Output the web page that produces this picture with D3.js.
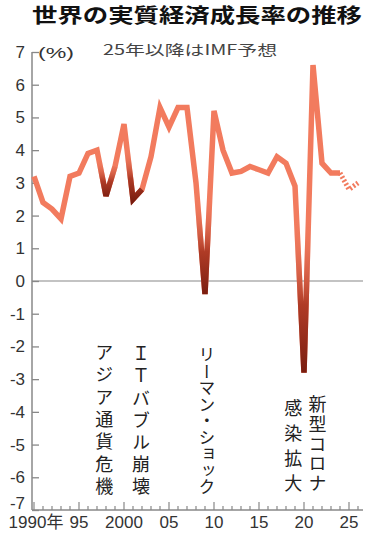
<!DOCTYPE html>
<html>
<head>
<meta charset="utf-8">
<script src="https://cdn.jsdelivr.net/npm/d3@7"></script>
<style>
  body { margin: 0; background: #fff; }
  svg { display: block; }
</style>
</head>
<body>
<div id="vis"></div>
<script>
// ************************** DATA **************************//
var years = d3.range(1990, 2027);
var growth = [3.2, 2.4, 2.2, 1.9, 3.2, 3.3, 3.9, 4.0, 2.6, 3.5,
              4.8, 2.5, 2.8, 3.8, 5.3, 4.7, 5.3, 5.3, 3.0, -0.4,
              5.2, 4.0, 3.3, 3.35, 3.5, 3.4, 3.3, 3.8, 3.6, 2.9,
              -2.8, 6.6, 3.6, 3.3, 3.3, 2.8, 3.0];
var forecastFrom = 2024;   // 25年以降はIMF予想
var yTicks = d3.range(-7, 8);
var xMajor = [1990, 1995, 2000, 2005, 2010, 2015, 2020, 2025];
var xLabels = ["1990年", "95", "2000", "05", "10", "15", "20", "25"];
var eventYears = [1998, 2001, 2009, 2020];
var notes = [
  {text: "アジア通貨危機", year: 1997.8, top: -1.9, bottom: -6.55},
  {text: "ＩＴバブル崩壊", year: 2001.9, top: -1.95, bottom: -6.55},
  {text: "リーマン・ショック", year: 2009.2, top: -2.0, bottom: -6.55},
  {text: "新型コロナ", year: 2021.5, top: -3.5, bottom: -6.45},
  {text: "感染拡大", year: 2018.8, top: -3.6, bottom: -6.45}
];

var W = 370, H = 539;
var salmon = "#f27b5e";

var svg = d3.select("#vis").append("svg")
  .attr("width", W).attr("height", H)
  .style("font-family", "'Noto Sans CJK JP', sans-serif");

var x = d3.scaleLinear().domain([1990, 2026]).range([34, 358]);
var y = d3.scaleLinear().domain([-7, 7]).range([510, 52]);
var axisX0 = 32, axisX1 = 363;

// title
svg.append("text")
  .attr("x", 197).attr("y", 23)
  .attr("text-anchor", "middle")
  .attr("font-size", 20).attr("font-weight", 700)
  .attr("textLength", 330).attr("lengthAdjust", "spacingAndGlyphs")
  .attr("fill", "#111")
  .text("世界の実質経済成長率の推移");

svg.append("text")
  .attr("x", 190).attr("y", 55)
  .attr("text-anchor", "middle")
  .attr("font-size", 14)
  .attr("textLength", 174).attr("lengthAdjust", "spacingAndGlyphs")
  .attr("fill", "#444")
  .text("25年以降はIMF予想");

svg.append("text")
  .attr("x", 38).attr("y", 58)
  .attr("font-size", 15)
  .attr("textLength", 36).attr("lengthAdjust", "spacingAndGlyphs")
  .attr("fill", "#333")
  .style("font-family", "'Liberation Sans', sans-serif")
  .text("(%)");

// y axis
svg.append("g").attr("transform", `translate(${axisX0},0)`)
  .call(d3.axisRight(y).tickValues(yTicks).tickSize(7).tickFormat(d => d < 0 ? "-" + Math.abs(d) : d))
  .call(g => g.select(".domain").remove())
  .call(g => g.selectAll(".tick line").attr("stroke", "#888").attr("stroke-width", 1.3))
  .call(g => g.selectAll(".tick text")
    .attr("x", -7).attr("text-anchor", "end")
    .attr("fill", "#333").attr("font-size", 17)
    .style("font-family", "'Liberation Sans', sans-serif")
    .attr("y", d => d === -7 ? -7 : 0));

svg.append("line")
  .attr("x1", axisX0).attr("x2", axisX0)
  .attr("y1", y(7)).attr("y2", y(-7))
  .attr("stroke", "#888").attr("stroke-width", 1.5);

// x axis
svg.append("line")
  .attr("x1", axisX0).attr("x2", axisX1)
  .attr("y1", y(-7)).attr("y2", y(-7))
  .attr("stroke", "#888").attr("stroke-width", 1.5);

svg.append("g").selectAll("line")
  .data(years)
  .join("line")
  .attr("x1", d => x(d)).attr("x2", d => x(d))
  .attr("y1", y(-7))
  .attr("y2", d => y(-7) - (d % 5 === 0 ? 8 : 4))
  .attr("stroke", "#888").attr("stroke-width", 1.2);

svg.append("g").selectAll("text")
  .data(xMajor)
  .join("text")
  .attr("x", (d, i) => x(d) + (i === 0 ? 2 : 0))
  .attr("y", 528)
  .attr("text-anchor", "middle")
  .attr("font-size", 17).attr("fill", "#333")
  .style("font-family", "'Liberation Sans', 'Noto Sans CJK JP', sans-serif")
  .text((d, i) => xLabels[i]);

// zero line
svg.append("line")
  .attr("x1", axisX0).attr("x2", axisX1)
  .attr("y1", y(0)).attr("y2", y(0))
  .attr("stroke", "#888").attr("stroke-width", 1.2);

// annotations (vertical text)
notes.forEach(function(n) {
  var L = y(n.bottom) - y(n.top);
  var chars = Array.from(n.text).length;
  var fs = Math.min(18, L / chars + 0.2);
  var ls = (L - chars * fs) / Math.max(1, chars - 1);
  svg.append("text")
    .attr("x", x(n.year)).attr("y", y(n.top))
    .attr("writing-mode", "vertical-rl")
    .style("letter-spacing", ls + "px")
    .attr("font-size", fs).attr("fill", "#222")
    .text(n.text);
});

// ************************** LINE **************************//
var pts = years.map((d, i) => ({year: d, v: growth[i]}));
var line = d3.line().x(d => x(d.year)).y(d => y(d.v));

var defs = svg.append("defs");

svg.append("path")
  .datum(pts.filter(d => d.year <= forecastFrom))
  .attr("d", line)
  .attr("fill", "none")
  .attr("stroke", salmon)
  .attr("stroke-width", 5.5)
  .attr("stroke-linejoin", "miter");

svg.append("path")
  .datum(pts.filter(d => d.year >= forecastFrom))
  .attr("d", line)
  .attr("fill", "none")
  .attr("stroke", salmon)
  .attr("stroke-width", 5)
  .attr("stroke-dasharray", "2,2");

// darken the dips at the event years
eventYears.forEach(function(ev, k) {
  var i = years.indexOf(ev);
  var seg = pts.slice(i - 1, i + 2);
  var depth = y(seg[1].v) - Math.min(y(seg[0].v), y(seg[2].v));
  var len = depth * 0.45 + 16;
  var id = "dip" + k;
  var grad = defs.append("linearGradient")
    .attr("id", id)
    .attr("gradientUnits", "userSpaceOnUse")
    .attr("x1", 0).attr("x2", 0)
    .attr("y1", y(seg[1].v) + 3).attr("y2", y(seg[1].v) - len);
  grad.append("stop").attr("offset", 0).attr("stop-color", "#761b0e").attr("stop-opacity", 1);
  grad.append("stop").attr("offset", 0.45).attr("stop-color", "#a83420").attr("stop-opacity", 0.9);
  grad.append("stop").attr("offset", 1).attr("stop-color", salmon).attr("stop-opacity", 0);

  svg.append("path")
    .datum(seg)
    .attr("d", line)
    .attr("fill", "none")
    .attr("stroke", `url(#${id})`)
    .attr("stroke-width", 5.5);
});
</script>
</body>
</html>
